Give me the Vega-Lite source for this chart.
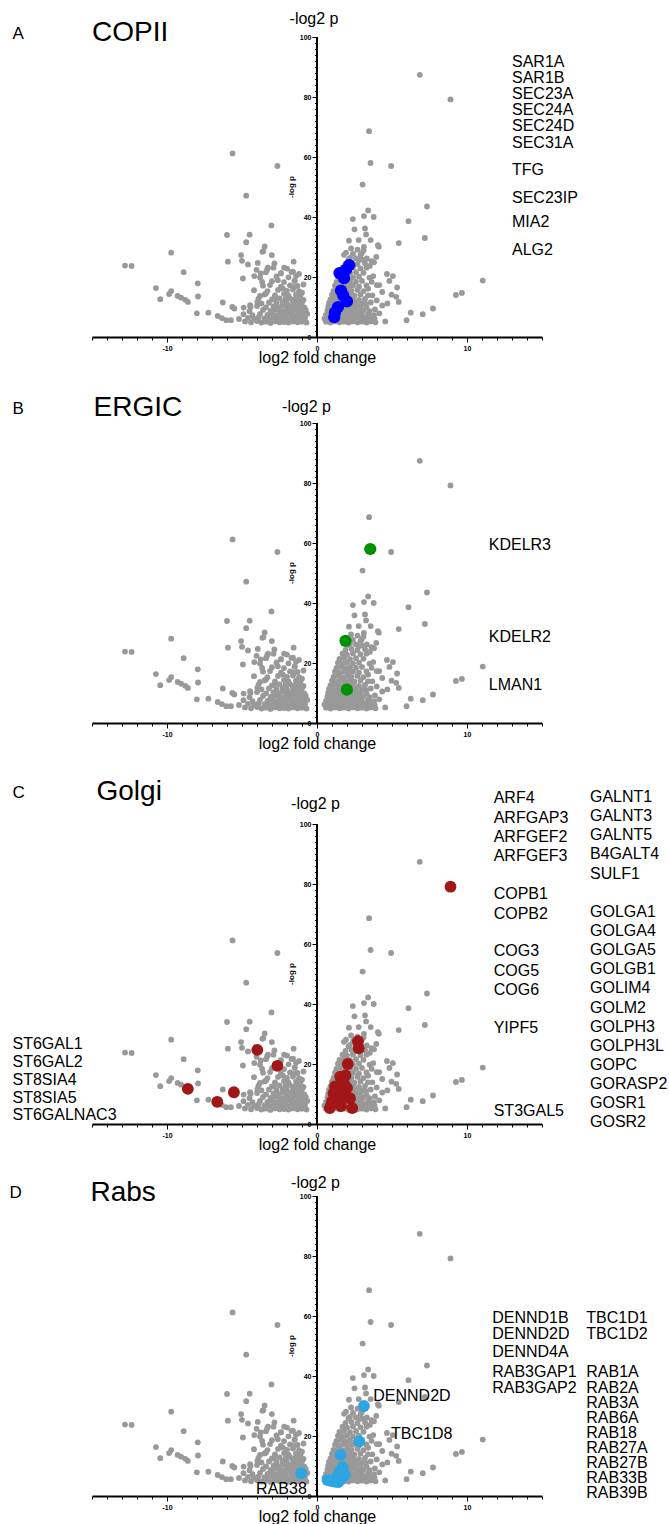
{
"$schema": "https://vega.github.io/schema/vega-lite/v6.json",
"background": "white",
"padding": {"left": 9, "top": 10, "right": 0, "bottom": 0},
"autosize": {"type": "pad"},
"config": {"view": {"stroke": null}, "text": {"font": "Liberation Sans", "color": "black"}, "axis": {"labelFont": "Liberation Sans", "titleFont": "Liberation Sans"}},
"datasets": {
"bg": [
{"x":6.85,"y":87.4},{"x":8.9,"y":79.2},{"x":3.47,"y":68.6},{"x":-5.63,"y":61.2},{"x":-2.64,"y":57.0},{"x":4.94,"y":57.0},{"x":3.57,"y":58.0},{"x":3.04,"y":50.8},{"x":-4.72,"y":47.1},{"x":7.33,"y":43.5},{"x":3.41,"y":42.2},{"x":2.39,"y":39.3},{"x":3.13,"y":40.3},{"x":3.78,"y":40.0},{"x":6.1,"y":38.6},{"x":-3.04,"y":37.2},{"x":2.5,"y":35.9},{"x":3.2,"y":36.2},{"x":-6.0,"y":34.0},{"x":-4.49,"y":34.1},{"x":-4.72,"y":31.6},{"x":7.19,"y":33.0},{"x":5.45,"y":31.3},{"x":2.13,"y":32.1},{"x":2.78,"y":32.3},{"x":3.27,"y":34.2},{"x":3.58,"y":32.3},{"x":4.06,"y":30.6},{"x":4.12,"y":30.1},{"x":-3.49,"y":30.2},{"x":-3.58,"y":28.6},{"x":-9.72,"y":28.1},{"x":-5.06,"y":27.3},{"x":-3.01,"y":27.3},{"x":-12.8,"y":23.8},{"x":-12.36,"y":23.7},{"x":-5.94,"y":25.1},{"x":-5.0,"y":25.4},{"x":-3.95,"y":24.7},{"x":-2.84,"y":24.5},{"x":-1.56,"y":25.1},{"x":-2.19,"y":23.1},{"x":-3.32,"y":22.6},{"x":-8.89,"y":21.6},{"x":-4.94,"y":19.5},{"x":-4.18,"y":20.3},{"x":-3.75,"y":21.2},{"x":-7.95,"y":17.9},{"x":-10.74,"y":16.3},{"x":-10.45,"y":12.6},{"x":-9.72,"y":15.3},{"x":-9.86,"y":14.3},{"x":-9.29,"y":13.7},{"x":-9.06,"y":13.1},{"x":-8.78,"y":12.4},{"x":-8.61,"y":11.7},{"x":-7.93,"y":13.5},{"x":-8.01,"y":7.9},{"x":-7.24,"y":8.1},{"x":-6.28,"y":11.5},{"x":-6.62,"y":7.0},{"x":-6.34,"y":6.3},{"x":-6.05,"y":5.6},{"x":-5.74,"y":5.6},{"x":-5.65,"y":10.0},{"x":-5.51,"y":9.5},{"x":-4.89,"y":9.8},{"x":-4.43,"y":10.0},{"x":11.05,"y":18.8},{"x":9.66,"y":14.7},{"x":9.26,"y":14.0},{"x":7.73,"y":9.5},{"x":7.05,"y":7.6},{"x":6.25,"y":8.1},{"x":5.97,"y":5.6},{"x":4.55,"y":5.2},{"x":5.28,"y":13.4},{"x":4.97,"y":14.1},{"x":5.34,"y":16.5},{"x":5.06,"y":20.3},{"x":4.83,"y":18.7},{"x":4.66,"y":21.0},{"x":4.15,"y":17.3},{"x":3.98,"y":17.3},{"x":4.35,"y":15.0},{"x":4.69,"y":11.2},{"x":4.35,"y":10.5},{"x":3.86,"y":9.2},{"x":4.15,"y":7.9},{"x":5.45,"y":11.7},{"x":3.64,"y":18.4},{"x":3.75,"y":20.3},{"x":3.41,"y":16.1},{"x":3.69,"y":13.9},{"x":3.98,"y":12.2},{"x":3.58,"y":11.5},{"x":3.47,"y":7.2},{"x":3.84,"y":6.1},{"x":3.35,"y":5.2},{"x":3.8,"y":24.9},{"x":3.95,"y":26.7},{"x":3.13,"y":30.0},{"x":2.98,"y":27.8},{"x":3.32,"y":26.2},{"x":2.78,"y":25.6},{"x":3.52,"y":23.7},{"x":2.27,"y":29.5},{"x":1.93,"y":28.1},{"x":2.2,"y":26.4},{"x":3.63,"y":25.3},{"x":-3.64,"y":28.4},{"x":-4.6,"y":24.2},{"x":-4.03,"y":22.4},{"x":-3.27,"y":23.1},{"x":-3.66,"y":18.4},{"x":-3.13,"y":17.3},{"x":-2.61,"y":18.9},{"x":-2.41,"y":21.2},{"x":-1.7,"y":21.7},{"x":-1.48,"y":18.9},{"x":-1.56,"y":16.7},{"x":-2.27,"y":16.1},{"x":-3.8,"y":13.7},{"x":-3.4,"y":14.5},{"x":-2.84,"y":12.8},{"x":-4.46,"y":10.6},{"x":-3.98,"y":11.7},{"x":-1.2,"y":21.0},{"x":-0.9,"y":17.5},{"x":-1.0,"y":14.8},
{"x":-4.8,"y":5.2},{"x":-4.4,"y":4.9},{"x":-4.0,"y":5.3},{"x":-3.7,"y":4.8},{"x":-3.4,"y":5.1},{"x":-3.1,"y":4.7},{"x":-2.8,"y":5.2},{"x":-2.5,"y":4.9},{"x":-2.2,"y":5.0},{"x":-1.9,"y":4.8},{"x":-1.6,"y":5.2},{"x":-1.3,"y":4.9},{"x":-1.0,"y":5.1},{"x":-0.7,"y":4.8},
{"x":-5.2,"y":6.0},{"x":-4.6,"y":6.4},{"x":-4.2,"y":6.1},{"x":-3.9,"y":6.5},{"x":-3.5,"y":6.2},{"x":-3.2,"y":6.0},{"x":-2.9,"y":6.4},{"x":-2.6,"y":6.1},{"x":-2.3,"y":6.3},{"x":-2.0,"y":5.9},{"x":-1.7,"y":6.4},{"x":-1.4,"y":6.2},{"x":-1.1,"y":6.0},{"x":-0.8,"y":6.3},
{"x":-4.9,"y":7.6},{"x":-4.3,"y":7.3},{"x":-3.8,"y":7.7},{"x":-3.3,"y":7.4},{"x":-3.0,"y":7.8},{"x":-2.7,"y":7.3},{"x":-2.4,"y":7.6},{"x":-2.1,"y":7.4},{"x":-1.8,"y":7.7},{"x":-1.5,"y":7.3},{"x":-1.2,"y":7.6},{"x":-0.9,"y":7.4},{"x":-0.65,"y":7.7},
{"x":-4.5,"y":8.6},{"x":-3.6,"y":9.0},{"x":-3.1,"y":8.7},{"x":-2.8,"y":9.1},{"x":-2.5,"y":8.8},{"x":-2.2,"y":8.6},{"x":-1.9,"y":9.0},{"x":-1.6,"y":8.7},{"x":-1.3,"y":8.9},{"x":-1.0,"y":8.6},{"x":-0.75,"y":9.0},
{"x":-4.0,"y":10.3},{"x":-3.4,"y":9.9},{"x":-2.9,"y":10.2},{"x":-2.6,"y":10.0},{"x":-2.3,"y":10.4},{"x":-2.0,"y":9.9},{"x":-1.7,"y":10.2},{"x":-1.4,"y":10.0},{"x":-1.1,"y":10.3},{"x":-0.85,"y":9.9},
{"x":-3.7,"y":11.2},{"x":-3.2,"y":11.5},{"x":-2.7,"y":11.3},{"x":-2.3,"y":11.6},{"x":-2.0,"y":11.2},{"x":-1.6,"y":11.5},{"x":-1.3,"y":11.3},{"x":-1.0,"y":11.6},
{"x":-3.9,"y":12.8},{"x":-3.0,"y":12.5},{"x":-2.5,"y":12.9},{"x":-2.1,"y":12.6},{"x":-1.8,"y":12.9},{"x":-1.5,"y":12.5},{"x":-1.2,"y":12.8},{"x":-0.9,"y":12.4},
{"x":-3.5,"y":14.2},{"x":-2.8,"y":13.9},{"x":-2.2,"y":14.3},{"x":-1.9,"y":13.8},{"x":-1.4,"y":14.1},{"x":-1.1,"y":13.9},
{"x":-4.2,"y":15.6},{"x":-3.3,"y":15.3},{"x":-2.6,"y":15.7},{"x":-2.0,"y":15.4},{"x":-1.6,"y":15.8},{"x":-1.2,"y":15.3},
{"x":-3.6,"y":17.1},{"x":-2.4,"y":16.8},{"x":-1.8,"y":17.2},{"x":-1.3,"y":17.0},
{"x":-3.0,"y":18.6},{"x":-2.2,"y":18.3},{"x":-1.5,"y":18.7},
{"x":-3.8,"y":19.8},{"x":-2.7,"y":20.2},{"x":-1.9,"y":19.9},{"x":-1.4,"y":20.4},
{"x":-3.4,"y":21.6},{"x":-2.4,"y":21.3},{"x":-1.6,"y":21.8},
{"x":-2.9,"y":23.1},{"x":-2.0,"y":22.8},
{"x":0.6,"y":5.1},{"x":0.9,"y":4.8},{"x":1.2,"y":5.2},{"x":1.5,"y":4.9},{"x":1.8,"y":5.1},{"x":2.1,"y":4.8},{"x":2.4,"y":5.2},{"x":2.7,"y":4.9},{"x":3.0,"y":5.1},{"x":3.3,"y":4.8},{"x":3.6,"y":5.2},{"x":3.9,"y":4.9},
{"x":0.5,"y":6.1},{"x":0.8,"y":6.4},{"x":1.1,"y":6.0},{"x":1.4,"y":6.3},{"x":1.7,"y":6.1},{"x":2.0,"y":6.4},{"x":2.3,"y":6.0},{"x":2.6,"y":6.3},{"x":2.9,"y":6.1},{"x":3.2,"y":6.4},{"x":3.5,"y":6.0},
{"x":0.6,"y":7.4},{"x":0.9,"y":7.7},{"x":1.2,"y":7.3},{"x":1.5,"y":7.6},{"x":1.8,"y":7.4},{"x":2.1,"y":7.7},{"x":2.4,"y":7.3},{"x":2.7,"y":7.6},{"x":3.0,"y":7.4},{"x":3.4,"y":7.7},{"x":3.8,"y":7.3},
{"x":0.7,"y":8.9},{"x":1.0,"y":8.6},{"x":1.3,"y":9.0},{"x":1.6,"y":8.7},{"x":1.9,"y":8.9},{"x":2.2,"y":8.6},{"x":2.5,"y":9.0},{"x":2.8,"y":8.7},{"x":3.1,"y":8.9},{"x":3.5,"y":8.6},
{"x":0.75,"y":10.1},{"x":1.05,"y":9.8},{"x":1.35,"y":10.2},{"x":1.65,"y":9.9},{"x":1.95,"y":10.3},{"x":2.25,"y":9.8},{"x":2.55,"y":10.1},{"x":2.9,"y":10.3},{"x":3.3,"y":9.9},
{"x":0.8,"y":11.4},{"x":1.1,"y":11.1},{"x":1.4,"y":11.5},{"x":1.7,"y":11.2},{"x":2.0,"y":11.4},{"x":2.3,"y":11.1},{"x":2.6,"y":11.5},{"x":3.0,"y":11.2},{"x":3.25,"y":11.0},
{"x":0.9,"y":12.5},{"x":1.2,"y":12.8},{"x":1.5,"y":12.4},{"x":1.8,"y":12.7},{"x":2.1,"y":12.5},{"x":2.4,"y":12.8},{"x":2.8,"y":12.4},{"x":3.2,"y":12.7},
{"x":1.0,"y":14.1},{"x":1.3,"y":13.8},{"x":1.6,"y":14.2},{"x":1.9,"y":13.9},{"x":2.2,"y":14.1},{"x":2.5,"y":13.8},{"x":2.9,"y":14.2},{"x":3.4,"y":13.9},
{"x":1.1,"y":15.4},{"x":1.4,"y":15.7},{"x":1.7,"y":15.3},{"x":2.0,"y":15.6},{"x":2.3,"y":15.4},{"x":2.7,"y":15.7},{"x":3.1,"y":15.3},
{"x":1.2,"y":17.1},{"x":1.5,"y":16.8},{"x":1.8,"y":17.2},{"x":2.1,"y":16.9},{"x":2.4,"y":17.1},{"x":2.8,"y":16.8},{"x":3.3,"y":17.2},
{"x":1.3,"y":18.4},{"x":1.6,"y":18.7},{"x":1.9,"y":18.3},{"x":2.2,"y":18.6},{"x":2.6,"y":18.4},{"x":3.0,"y":18.7},
{"x":1.4,"y":20.1},{"x":1.7,"y":19.8},{"x":2.0,"y":20.2},{"x":2.4,"y":19.9},{"x":2.8,"y":20.1},{"x":3.5,"y":19.8},
{"x":1.5,"y":21.4},{"x":1.8,"y":21.7},{"x":2.2,"y":21.3},{"x":2.6,"y":21.6},{"x":3.1,"y":21.4},
{"x":1.7,"y":23.1},{"x":2.0,"y":22.8},{"x":2.4,"y":23.2},{"x":2.9,"y":22.9},{"x":3.3,"y":23.1},
{"x":1.9,"y":24.4},{"x":2.3,"y":24.7},{"x":2.7,"y":24.3},{"x":3.2,"y":24.6},
{"x":2.1,"y":25.9},{"x":2.6,"y":26.2},{"x":3.0,"y":25.8},
{"x":1.8,"y":27.4},{"x":2.4,"y":27.7},{"x":2.9,"y":27.3},
{"x":2.7,"y":29.1},{"x":3.1,"y":28.8}
],
"hA": [{"x":2.15,"y":24.0},{"x":1.95,"y":22.5},{"x":1.5,"y":21.3},{"x":1.8,"y":19.6},{"x":1.6,"y":15.5},{"x":1.75,"y":13.8},{"x":2.0,"y":11.9},{"x":1.4,"y":10.0},{"x":1.2,"y":8.2},{"x":1.15,"y":6.6}],
"hB": [{"x":3.55,"y":58.0},{"x":1.9,"y":27.4},{"x":1.99,"y":11.1}],
"hC": [{"x":8.9,"y":79.1},{"x":2.73,"y":27.6},{"x":2.78,"y":25.2},{"x":-3.98,"y":24.7},{"x":-2.64,"y":19.4},{"x":-8.61,"y":11.7},{"x":-5.54,"y":10.6},{"x":-6.65,"y":7.4},{"x":2.05,"y":20.0},{"x":1.9,"y":16.2},{"x":1.55,"y":15.8},{"x":2.0,"y":12.0},{"x":1.4,"y":11.3},{"x":1.1,"y":10.2},{"x":1.7,"y":9.2},{"x":1.3,"y":8.0},{"x":0.95,"y":6.4},{"x":0.85,"y":5.3},{"x":2.35,"y":5.3},{"x":1.5,"y":7.0},{"x":1.8,"y":13.5},{"x":1.2,"y":12.5},{"x":1.0,"y":7.5},{"x":1.6,"y":6.0},{"x":2.2,"y":8.5}],
"hD": [{"x":3.13,"y":30.0},{"x":2.82,"y":18.2},{"x":1.57,"y":13.7},{"x":1.71,"y":9.6},{"x":1.85,"y":7.0},{"x":1.3,"y":6.2},{"x":0.95,"y":5.0},{"x":1.4,"y":4.6},{"x":-1.05,"y":7.6},{"x":0.7,"y":5.3},{"x":1.6,"y":5.5},{"x":1.15,"y":4.8},{"x":1.5,"y":8.0}],
"lA": [{"x":13.0,"y":91.8,"t":"SAR1A"},{"x":13.0,"y":86.4,"t":"SAR1B"},{"x":13.0,"y":81.1,"t":"SEC23A"},{"x":13.0,"y":75.6,"t":"SEC24A"},{"x":13.0,"y":70.2,"t":"SEC24D"},{"x":13.0,"y":64.8,"t":"SEC31A"},{"x":13.0,"y":55.6,"t":"TFG"},{"x":13.0,"y":46.4,"t":"SEC23IP"},{"x":13.0,"y":38.4,"t":"MIA2"},{"x":13.0,"y":29.1,"t":"ALG2"}],
"lB": [{"x":11.45,"y":59.2,"t":"KDELR3"},{"x":11.45,"y":28.6,"t":"KDELR2"},{"x":11.45,"y":12.6,"t":"LMAN1"}],
"lC": [{"x":11.78,"y":108.6,"t":"ARF4"},{"x":11.78,"y":102.1,"t":"ARFGAP3"},{"x":11.78,"y":95.7,"t":"ARFGEF2"},{"x":11.78,"y":89.3,"t":"ARFGEF3"},{"x":11.78,"y":76.6,"t":"COPB1"},{"x":11.78,"y":70.1,"t":"COPB2"},{"x":11.78,"y":57.6,"t":"COG3"},{"x":11.78,"y":51.1,"t":"COG5"},{"x":11.78,"y":44.8,"t":"COG6"},{"x":11.78,"y":32.1,"t":"YIPF5"},{"x":11.78,"y":4.3,"t":"ST3GAL5"},
{"x":18.2,"y":109.0,"t":"GALNT1"},{"x":18.2,"y":102.7,"t":"GALNT3"},{"x":18.2,"y":96.3,"t":"GALNT5"},{"x":18.2,"y":89.9,"t":"B4GALT4"},{"x":18.2,"y":83.4,"t":"SULF1"},{"x":18.2,"y":70.7,"t":"GOLGA1"},{"x":18.2,"y":64.2,"t":"GOLGA4"},{"x":18.2,"y":57.9,"t":"GOLGA5"},{"x":18.2,"y":51.6,"t":"GOLGB1"},{"x":18.2,"y":45.2,"t":"GOLIM4"},{"x":18.2,"y":38.8,"t":"GOLM2"},{"x":18.2,"y":32.4,"t":"GOLPH3"},{"x":18.2,"y":26.1,"t":"GOLPH3L"},{"x":18.2,"y":19.8,"t":"GOPC"},{"x":18.2,"y":13.4,"t":"GORASP2"},{"x":18.2,"y":7.1,"t":"GOSR1"},{"x":18.2,"y":0.8,"t":"GOSR2"},
{"x":-20.3,"y":26.6,"t":"ST6GAL1"},{"x":-20.3,"y":20.7,"t":"ST6GAL2"},{"x":-20.3,"y":14.7,"t":"ST8SIA4"},{"x":-20.3,"y":8.8,"t":"ST8SIA5"},{"x":-20.3,"y":2.9,"t":"ST6GALNAC3"}],
"lD": [{"x":11.68,"y":59.4,"t":"DENND1B"},{"x":11.68,"y":53.9,"t":"DENND2D"},{"x":11.68,"y":48.1,"t":"DENND4A"},{"x":11.68,"y":41.3,"t":"RAB3GAP1"},{"x":11.68,"y":36.1,"t":"RAB3GAP2"},
{"x":17.95,"y":59.4,"t":"TBC1D1"},{"x":17.95,"y":53.9,"t":"TBC1D2"},{"x":17.95,"y":41.3,"t":"RAB1A"},{"x":17.95,"y":36.1,"t":"RAB2A"},{"x":17.95,"y":31.1,"t":"RAB3A"},{"x":17.95,"y":26.1,"t":"RAB6A"},{"x":17.95,"y":21.0,"t":"RAB18"},{"x":17.95,"y":16.1,"t":"RAB27A"},{"x":17.95,"y":10.9,"t":"RAB27B"},{"x":17.95,"y":5.9,"t":"RAB33B"},{"x":17.95,"y":0.9,"t":"RAB39B"},
{"x":3.75,"y":33.3,"t":"DENND2D"},{"x":4.94,"y":20.7,"t":"TBC1D8"}],
"lD2": [{"x":-0.68,"y":2.4,"t":"RAB38"}],
"yline": [{"x":0,"y":0,"y2":100}]
},
"bounds": "flush",
"spacing": 0,
"vconcat": [
{
"width": 450, "height": 300,
"encoding": {
"x": {"field": "x", "type": "quantitative", "scale": {"domain": [-15, 15], "nice": false, "zero": false}, "axis": {"title": "log2 fold change", "titleFontSize": 16, "titleFontWeight": "normal", "titleColor": "black", "titlePadding": -2, "values": [-15,-14,-13,-12,-11,-10,-9,-8,-7,-6,-5,-4,-3,-2,-1,0,1,2,3,4,5,6,7,8,9,10,11,12,13,14,15], "labelExpr": "datum.value % 10 === 0 ? replace(datum.label, '\u2212', '-') : ''", "labelFontSize": 7, "labelFontWeight": "bold", "labelColor": "black", "labelPadding": 2, "labelFlush": false, "labelOverlap": false, "labelBound": false, "tickColor": "black", "tickWidth": 1, "tickSize": {"condition": {"test": "datum.value % 10 === 0", "value": 5}, "value": 3}, "domainColor": "black", "domainWidth": 1.8, "grid": false}},
"y": {"field": "y", "type": "quantitative", "scale": {"domain": [0, 100], "nice": false, "zero": false}, "axis": {"title": null, "orient": "left", "offset": -225, "values": [0,2,4,6,8,10,12,14,16,18,20,22,24,26,28,30,32,34,36,38,40,42,44,46,48,50,52,54,56,58,60,62,64,66,68,70,72,74,76,78,80,82,84,86,88,90,92,94,96,98,100], "labelExpr": "datum.value % 20 === 0 ? datum.label : ''", "labelFontSize": 7, "labelFontWeight": "bold", "labelColor": "black", "labelPadding": 1, "labelOverlap": false, "labelBound": false, "labelFlush": false, "domain": false, "tickColor": "black", "tickWidth": 1, "tickSize": {"condition": {"test": "datum.value % 20 === 0", "value": 5}, "value": 2.5}, "grid": false}}
},
"layer": [
{"data": {"name": "bg"}, "mark": {"type": "circle", "size": 34, "color": "#999999", "opacity": 1}},
{"data": {"name": "hA"}, "mark": {"type": "circle", "size": 150, "color": "#0000ff", "opacity": 1}},
{"data": {"name": "yline"}, "mark": {"type": "rule", "color": "#000000", "strokeWidth": 2, "opacity": 1}, "encoding": {"x": {"field": "x", "type": "quantitative"}, "y": {"field": "y", "type": "quantitative"}, "y2": {"field": "y2"}}},
{"data": {"name": "lA"}, "mark": {"type": "text", "align": "left", "baseline": "middle", "fontSize": 16}, "encoding": {"text": {"field": "t"}}},
{"data": {"values": [{"x": -20.3, "y": 101.1}]}, "mark": {"type": "text", "text": "A", "align": "left", "baseline": "middle", "fontSize": 17}},
{"data": {"values": [{"x": -15.0, "y": 101.4}]}, "mark": {"type": "text", "text": "COPII", "align": "left", "baseline": "middle", "fontSize": 28}},
{"data": {"values": [{"x": -0.2, "y": 106}]}, "mark": {"type": "text", "text": "-log2 p", "align": "center", "baseline": "middle", "fontSize": 16}},
{"data": {"values": [{"x": -1.65, "y": 50}]}, "mark": {"type": "text", "text": "-log p", "align": "center", "baseline": "middle", "fontSize": 8, "fontWeight": "bold", "angle": 270}}
]
},
{
"width": 450, "height": 386,
"encoding": {
"x": {"field": "x", "type": "quantitative", "scale": {"domain": [-15, 15], "nice": false, "zero": false}, "axis": {"title": "log2 fold change", "titleFontSize": 16, "titleFontWeight": "normal", "titleColor": "black", "titlePadding": -2, "values": [-15,-14,-13,-12,-11,-10,-9,-8,-7,-6,-5,-4,-3,-2,-1,0,1,2,3,4,5,6,7,8,9,10,11,12,13,14,15], "labelExpr": "datum.value % 10 === 0 ? replace(datum.label, '\u2212', '-') : ''", "labelFontSize": 7, "labelFontWeight": "bold", "labelColor": "black", "labelPadding": 2, "labelFlush": false, "labelOverlap": false, "labelBound": false, "tickColor": "black", "tickWidth": 1, "tickSize": {"condition": {"test": "datum.value % 10 === 0", "value": 5}, "value": 3}, "domainColor": "black", "domainWidth": 1.8, "grid": false}},
"y": {"field": "y", "type": "quantitative", "scale": {"domain": [0, 128.667], "nice": false, "zero": false}, "axis": {"title": null, "orient": "left", "offset": -225, "values": [0,2,4,6,8,10,12,14,16,18,20,22,24,26,28,30,32,34,36,38,40,42,44,46,48,50,52,54,56,58,60,62,64,66,68,70,72,74,76,78,80,82,84,86,88,90,92,94,96,98,100], "labelExpr": "datum.value % 20 === 0 ? datum.label : ''", "labelFontSize": 7, "labelFontWeight": "bold", "labelColor": "black", "labelPadding": 1, "labelOverlap": false, "labelBound": false, "labelFlush": false, "domain": false, "tickColor": "black", "tickWidth": 1, "tickSize": {"condition": {"test": "datum.value % 20 === 0", "value": 5}, "value": 2.5}, "grid": false}}
},
"layer": [
{"data": {"name": "bg"}, "mark": {"type": "circle", "size": 34, "color": "#999999", "opacity": 1}},
{"data": {"name": "hB"}, "mark": {"type": "circle", "size": 150, "color": "#009300", "opacity": 1}},
{"data": {"name": "yline"}, "mark": {"type": "rule", "color": "#000000", "strokeWidth": 2, "opacity": 1}, "encoding": {"x": {"field": "x", "type": "quantitative"}, "y": {"field": "y", "type": "quantitative"}, "y2": {"field": "y2"}}},
{"data": {"name": "lB"}, "mark": {"type": "text", "align": "left", "baseline": "middle", "fontSize": 16}, "encoding": {"text": {"field": "t"}}},
{"data": {"values": [{"x": -20.3, "y": 104.7}]}, "mark": {"type": "text", "text": "B", "align": "left", "baseline": "middle", "fontSize": 17}},
{"data": {"values": [{"x": -14.9, "y": 104.9}]}, "mark": {"type": "text", "text": "ERGIC", "align": "left", "baseline": "middle", "fontSize": 28}},
{"data": {"values": [{"x": -0.7, "y": 105.3}]}, "mark": {"type": "text", "text": "-log2 p", "align": "center", "baseline": "middle", "fontSize": 16}},
{"data": {"values": [{"x": -1.65, "y": 50}]}, "mark": {"type": "text", "text": "-log p", "align": "center", "baseline": "middle", "fontSize": 8, "fontWeight": "bold", "angle": 270}}
]
},
{
"width": 450, "height": 401,
"encoding": {
"x": {"field": "x", "type": "quantitative", "scale": {"domain": [-15, 15], "nice": false, "zero": false}, "axis": {"title": "log2 fold change", "titleFontSize": 16, "titleFontWeight": "normal", "titleColor": "black", "titlePadding": -2, "values": [-15,-14,-13,-12,-11,-10,-9,-8,-7,-6,-5,-4,-3,-2,-1,0,1,2,3,4,5,6,7,8,9,10,11,12,13,14,15], "labelExpr": "datum.value % 10 === 0 ? replace(datum.label, '\u2212', '-') : ''", "labelFontSize": 7, "labelFontWeight": "bold", "labelColor": "black", "labelPadding": 2, "labelFlush": false, "labelOverlap": false, "labelBound": false, "tickColor": "black", "tickWidth": 1, "tickSize": {"condition": {"test": "datum.value % 10 === 0", "value": 5}, "value": 3}, "domainColor": "black", "domainWidth": 1.8, "grid": false}},
"y": {"field": "y", "type": "quantitative", "scale": {"domain": [0, 133.667], "nice": false, "zero": false}, "axis": {"title": null, "orient": "left", "offset": -225, "values": [0,2,4,6,8,10,12,14,16,18,20,22,24,26,28,30,32,34,36,38,40,42,44,46,48,50,52,54,56,58,60,62,64,66,68,70,72,74,76,78,80,82,84,86,88,90,92,94,96,98,100], "labelExpr": "datum.value % 20 === 0 ? datum.label : ''", "labelFontSize": 7, "labelFontWeight": "bold", "labelColor": "black", "labelPadding": 1, "labelOverlap": false, "labelBound": false, "labelFlush": false, "domain": false, "tickColor": "black", "tickWidth": 1, "tickSize": {"condition": {"test": "datum.value % 20 === 0", "value": 5}, "value": 2.5}, "grid": false}}
},
"layer": [
{"data": {"name": "bg"}, "mark": {"type": "circle", "size": 34, "color": "#999999", "opacity": 1}},
{"data": {"name": "hC"}, "mark": {"type": "circle", "size": 140, "color": "#a11616", "opacity": 1}},
{"data": {"name": "yline"}, "mark": {"type": "rule", "color": "#000000", "strokeWidth": 2, "opacity": 1}, "encoding": {"x": {"field": "x", "type": "quantitative"}, "y": {"field": "y", "type": "quantitative"}, "y2": {"field": "y2"}}},
{"data": {"name": "lC"}, "mark": {"type": "text", "align": "left", "baseline": "middle", "fontSize": 16}, "encoding": {"text": {"field": "t"}}},
{"data": {"values": [{"x": -20.3, "y": 110.4}]}, "mark": {"type": "text", "text": "C", "align": "left", "baseline": "middle", "fontSize": 17}},
{"data": {"values": [{"x": -14.7, "y": 110.8}]}, "mark": {"type": "text", "text": "Golgi", "align": "left", "baseline": "middle", "fontSize": 28}},
{"data": {"values": [{"x": -0.1, "y": 106.6}]}, "mark": {"type": "text", "text": "-log2 p", "align": "center", "baseline": "middle", "fontSize": 16}},
{"data": {"values": [{"x": -1.65, "y": 50}]}, "mark": {"type": "text", "text": "-log p", "align": "center", "baseline": "middle", "fontSize": 8, "fontWeight": "bold", "angle": 270}}
]
},
{
"width": 450, "height": 372,
"encoding": {
"x": {"field": "x", "type": "quantitative", "scale": {"domain": [-15, 15], "nice": false, "zero": false}, "axis": {"title": "log2 fold change", "titleFontSize": 16, "titleFontWeight": "normal", "titleColor": "black", "titlePadding": -2, "values": [-15,-14,-13,-12,-11,-10,-9,-8,-7,-6,-5,-4,-3,-2,-1,0,1,2,3,4,5,6,7,8,9,10,11,12,13,14,15], "labelExpr": "datum.value % 10 === 0 ? replace(datum.label, '\u2212', '-') : ''", "labelFontSize": 7, "labelFontWeight": "bold", "labelColor": "black", "labelPadding": 2, "labelFlush": false, "labelOverlap": false, "labelBound": false, "tickColor": "black", "tickWidth": 1, "tickSize": {"condition": {"test": "datum.value % 10 === 0", "value": 5}, "value": 3}, "domainColor": "black", "domainWidth": 1.8, "grid": false}},
"y": {"field": "y", "type": "quantitative", "scale": {"domain": [0, 124], "nice": false, "zero": false}, "axis": {"title": null, "orient": "left", "offset": -225, "values": [0,2,4,6,8,10,12,14,16,18,20,22,24,26,28,30,32,34,36,38,40,42,44,46,48,50,52,54,56,58,60,62,64,66,68,70,72,74,76,78,80,82,84,86,88,90,92,94,96,98,100], "labelExpr": "datum.value % 20 === 0 ? datum.label : ''", "labelFontSize": 7, "labelFontWeight": "bold", "labelColor": "black", "labelPadding": 1, "labelOverlap": false, "labelBound": false, "labelFlush": false, "domain": false, "tickColor": "black", "tickWidth": 1, "tickSize": {"condition": {"test": "datum.value % 20 === 0", "value": 5}, "value": 2.5}, "grid": false}}
},
"layer": [
{"data": {"name": "bg"}, "mark": {"type": "circle", "size": 34, "color": "#999999", "opacity": 1}},
{"data": {"name": "hD"}, "mark": {"type": "circle", "size": 140, "color": "#2ea5e3", "opacity": 1}},
{"data": {"name": "yline"}, "mark": {"type": "rule", "color": "#000000", "strokeWidth": 2, "opacity": 1}, "encoding": {"x": {"field": "x", "type": "quantitative"}, "y": {"field": "y", "type": "quantitative"}, "y2": {"field": "y2"}}},
{"data": {"name": "lD"}, "mark": {"type": "text", "align": "left", "baseline": "middle", "fontSize": 16}, "encoding": {"text": {"field": "t"}}},
{"data": {"name": "lD2"}, "mark": {"type": "text", "align": "right", "baseline": "middle", "fontSize": 16}, "encoding": {"text": {"field": "t"}}},
{"data": {"values": [{"x": -20.5, "y": 100.9}]}, "mark": {"type": "text", "text": "D", "align": "left", "baseline": "middle", "fontSize": 17}},
{"data": {"values": [{"x": -15.1, "y": 101.0}]}, "mark": {"type": "text", "text": "Rabs", "align": "left", "baseline": "middle", "fontSize": 28}},
{"data": {"values": [{"x": -0.1, "y": 104.4}]}, "mark": {"type": "text", "text": "-log2 p", "align": "center", "baseline": "middle", "fontSize": 16}},
{"data": {"values": [{"x": -1.65, "y": 50}]}, "mark": {"type": "text", "text": "-log p", "align": "center", "baseline": "middle", "fontSize": 8, "fontWeight": "bold", "angle": 270}}
]
}
]
}
